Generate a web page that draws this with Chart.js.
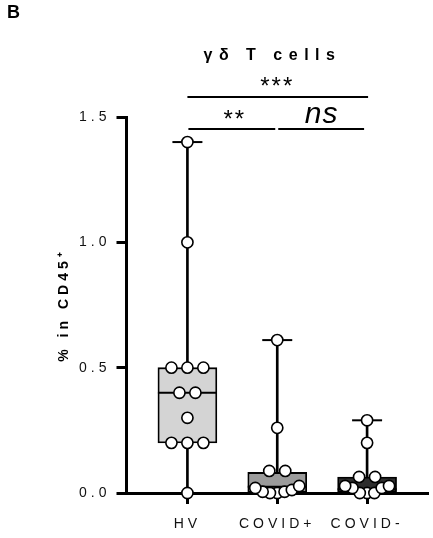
<!DOCTYPE html>
<html>
<head>
<meta charset="utf-8">
<script src="https://cdn.jsdelivr.net/npm/chart.js@4.4.1/dist/chart.umd.min.js"></script>
<style>
html, body { margin: 0; padding: 0; background: #fff; }
#wrap { width: 433px; height: 538px; position: relative; }
</style>
</head>
<body>
<div id="wrap"><canvas id="chart"></canvas></div>
<script>
// data
var categories = ['HV', 'COVID+', 'COVID-'];
var hvValues = [0, 0.2, 0.2, 0.2, 0.3, 0.4, 0.4, 0.5, 0.5, 0.5, 1.0, 1.4];
var covidPosValues = [0, 0, 0.005, 0.005, 0.012, 0.02, 0.028, 0.088, 0.088, 0.26, 0.61];
var covidNegValues = [0, 0, 0, 0.02, 0.02, 0.028, 0.028, 0.064, 0.064, 0.2, 0.29];

var boxMin = [0, 0, 0];
var boxQ1 = [0.2, 0.0, 0.0];
var boxMedian = [0.4, 0.025, 0.015];
var boxQ3 = [0.5, 0.082, 0.064];
var boxMax = [1.4, 0.61, 0.29];

var yTickLabels = ['0.0', '0.5', '1.0', '1.5'];
var yTickValues = [0, 0.5, 1.0, 1.5];
var boxFill = ['#d4d4d4', '#9b9b9b', '#2e2e2e'];

var chartTitle = 'γδ T cells';
var yTitle = '% in CD45⁺';

/////////////////////////////////
// dot layout (GraphPad style rows)
var pxPerY = 250, pxPerX = 90;
var binHeight = 12, rowGap = 16, rowWidth = 44;

function swarm(values, group) {
  var sorted = values.slice().sort(function(a, b) { return a - b; });
  var bins = [], cur = null;
  sorted.forEach(function(v) {
    if (!cur || (v - cur.start) * pxPerY >= binHeight) {
      cur = { start: v, vals: [] };
      bins.push(cur);
    }
    cur.vals.push(v);
  });
  var pts = [];
  bins.forEach(function(b) {
    var n = b.vals.length;
    var step = n > 1 ? Math.min(rowGap, rowWidth / (n - 1)) : 0;
    var slots = [];
    for (var k = 0; k < n; k++) slots.push((k - (n - 1) / 2) * step);
    slots.sort(function(a, c) { return Math.abs(a) - Math.abs(c) || a - c; });
    b.vals.forEach(function(v, k) {
      pts.push({ x: group + slots[k] / pxPerX, y: v });
    });
  });
  return pts;
}

var allPoints = swarm(hvValues, 0).concat(swarm(covidPosValues, 1), swarm(covidNegValues, 2));

var FONT = '"Liberation Sans", Arial, Helvetica, sans-serif';
Chart.defaults.font.family = FONT;

// letter spacing for the axis texts
var spacing = {
  id: 'spacing',
  beforeInit: function(chart) { chart.ctx.letterSpacing = '4px'; },
  afterInit: function(chart) { chart.ctx.letterSpacing = '4px'; },
  beforeUpdate: function(chart) { chart.ctx.letterSpacing = '4px'; },
  beforeDraw: function(chart) { chart.ctx.letterSpacing = '4px'; }
};

// title, significance bars, panel letter
var annotations = {
  id: 'annotations',
  afterDraw: function(chart) {
    var ctx = chart.ctx, xs = chart.scales.x, top = chart.chartArea.top;
    var x0 = xs.getPixelForValue(0), x1 = xs.getPixelForValue(1), x2 = xs.getPixelForValue(2);
    ctx.save();
    ctx.fillStyle = '#000';
    ctx.strokeStyle = '#000';
    ctx.lineWidth = 2;
    ctx.textBaseline = 'alphabetic';

    ctx.letterSpacing = '0px';
    ctx.textAlign = 'left';
    ctx.font = 'bold 18px ' + FONT;
    ctx.fillText('B', 7, 18);

    ctx.textAlign = 'center';
    ctx.letterSpacing = '6.5px';
    ctx.font = 'bold 16px ' + FONT;
    ctx.fillText(chartTitle, (x0 + x2) / 2 - 8 + 3.25, top - 57);

    ctx.letterSpacing = '2px';
    ctx.font = '24px ' + FONT;
    ctx.fillText('***', (x0 + x2) / 2 - 1 + 1, top - 23);
    ctx.fillText('**', (x0 + x1) / 2 + 1.5 + 1, top + 10);

    ctx.letterSpacing = '1px';
    ctx.font = 'italic 30px ' + FONT;
    ctx.fillText('ns', (x1 + x2) / 2 - 1 + 0.5, top + 6);

    ctx.beginPath();
    ctx.moveTo(x0, top - 20); ctx.lineTo(x2 + 1, top - 20);
    ctx.moveTo(x0 + 1, top + 12); ctx.lineTo(x1 - 2, top + 12);
    ctx.moveTo(x1 + 1, top + 12); ctx.lineTo(x2 - 3, top + 12);
    ctx.stroke();
    ctx.restore();
  }
};

new Chart(document.getElementById('chart'), {
  type: 'scatter',
  data: {
    datasets: [
      {
        type: 'bar',
        label: 'whiskers',
        data: categories.map(function(c, i) { return { x: i, y: [boxMin[i], boxMax[i]] }; }),
        backgroundColor: '#000',
        borderWidth: 0,
        barThickness: 2,
        grouped: false,
        clip: false,
        order: 4
      },
      {
        type: 'bar',
        label: 'boxes',
        data: categories.map(function(c, i) { return { x: i, y: [boxQ1[i], boxQ3[i]] }; }),
        backgroundColor: boxFill,
        borderColor: '#000',
        borderWidth: 1.8,
        borderSkipped: false,
        barThickness: 59,
        grouped: false,
        clip: false,
        order: 3
      },
      {
        label: 'median',
        data: categories.map(function(c, i) { return { x: i, y: boxMedian[i] }; }),
        pointStyle: 'line',
        pointRadius: 29.5,
        pointBorderColor: '#000',
        pointBorderWidth: 1.8,
        clip: false,
        order: 2
      },
      {
        label: 'caps',
        data: categories.map(function(c, i) { return { x: i, y: boxMax[i] }; }),
        pointStyle: 'line',
        pointRadius: 15,
        pointBorderColor: '#000',
        pointBorderWidth: 2,
        clip: false,
        order: 2
      },
      {
        label: 'values',
        data: allPoints,
        pointRadius: 5.6,
        pointBackgroundColor: '#fff',
        pointBorderColor: '#000',
        pointBorderWidth: 1.6,
        clip: false,
        order: 0
      }
    ]
  },
  options: {
    responsive: true,
    maintainAspectRatio: false,
    animation: false,
    events: [],
    layout: { autoPadding: false, padding: { top: 117, left: 52, right: 5, bottom: 0 } },
    plugins: {
      legend: { display: false },
      tooltip: { enabled: false }
    },
    scales: {
      x: {
        type: 'linear',
        min: -0.678,
        max: 2.678,
        offset: false,
        afterBuildTicks: function(scale) {
          scale.ticks = categories.map(function(c, i) { return { value: i }; });
        },
        afterFit: function(scale) {
          scale.height = 45;
          scale.paddingLeft = 0;
          scale.paddingRight = 0;
        },
        ticks: {
          callback: function(v) { return categories[v]; },
          font: { size: 14 },
          color: '#111',
          padding: 12,
          maxRotation: 0,
          autoSkip: false
        },
        grid: { display: true, offset: false, drawOnChartArea: false, drawTicks: true, tickLength: 11, tickWidth: 3, tickColor: '#000' },
        border: { display: true, width: 3, color: '#000' }
      },
      y: {
        type: 'linear',
        min: 0,
        max: 1.5,
        afterBuildTicks: function(scale) {
          scale.ticks = yTickValues.map(function(v) { return { value: v }; });
        },
        afterFit: function(scale) {
          scale.width = 74.5;
          scale.paddingTop = 0;
          scale.paddingBottom = 0;
        },
        ticks: {
          callback: function(v, i) { return yTickLabels[i]; },
          font: { size: 14 },
          color: '#111',
          padding: 6
        },
        grid: { display: true, drawOnChartArea: false, drawTicks: true, tickLength: 10, tickWidth: 3, tickColor: '#000' },
        border: { display: true, width: 3, color: '#000' },
        title: {
          display: true,
          text: yTitle,
          color: '#000',
          font: { size: 14, weight: 'bold' },
          padding: { top: 4, bottom: 6 }
        }
      }
    }
  },
  plugins: [spacing, annotations]
});
</script>
</body>
</html>
